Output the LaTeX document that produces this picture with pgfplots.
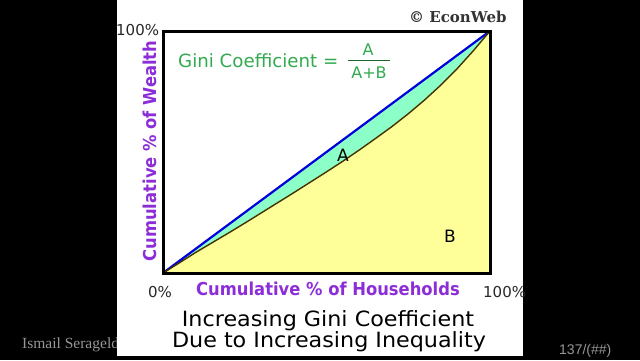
\documentclass[border=0pt]{standalone}
\usepackage{pgfplots}
\pgfplotsset{compat=1.18}
\usepackage{fontspec}
\setmainfont{DejaVu Sans}
\newfontfamily\titlefont{DejaVu Sans}[FakeStretch=1.06]
\newfontfamily\labfont{DejaVu Sans}[FakeStretch=0.92]
\newfontfamily\serifbold{DejaVu Serif}
\newfontfamily\timesfont{Liberation Serif}
\newfontfamily\arialfont{Liberation Sans}
\definecolor{yellowB}{RGB}{255,255,153}
\definecolor{mintA}{RGB}{140,255,200}
\definecolor{lineblue}{RGB}{0,0,220}
\definecolor{curvebrown}{RGB}{70,50,0}
\definecolor{purp}{RGB}{140,45,215}
\definecolor{gini}{RGB}{50,170,80}
\definecolor{tickgray}{RGB}{40,40,40}
\definecolor{footgray}{RGB}{150,150,150}
\pgfplotstableread{
x y
0 0
0.05 0.042
0.1 0.085
0.15 0.125
0.2 0.165
0.25 0.206
0.3 0.248
0.35 0.29
0.4 0.332
0.45 0.375
0.5 0.418
0.55 0.462
0.6 0.508
0.65 0.556
0.7 0.605
0.75 0.658
0.8 0.715
0.85 0.777
0.9 0.845
0.95 0.92
1 1
}\lorenz
\pgfplotstableread{
x y
0 0
1 1
0.95 0.92
0.9 0.845
0.85 0.777
0.8 0.715
0.75 0.658
0.7 0.605
0.65 0.556
0.6 0.508
0.55 0.462
0.5 0.418
0.45 0.375
0.4 0.332
0.35 0.29
0.3 0.248
0.25 0.206
0.2 0.165
0.15 0.125
0.1 0.085
0.05 0.042
0 0
}\region
\pgfplotstableread{
x y
0 0
1 1
}\diag
\begin{document}
\begin{tikzpicture}
\fill[black] (0pt,0pt) rectangle (640pt,-360pt);
\useasboundingbox (0pt,0pt) rectangle (640pt,-360pt);
\node[anchor=base west, text=footgray, inner sep=0pt] at (22pt,-348pt) {\timesfont\fontsize{15.5}{17}\selectfont Ismail Serageldin};
\node[anchor=base west, text=footgray, inner sep=0pt] at (559pt,-354pt) {\arialfont\fontsize{14}{16}\selectfont 137/(\#\#)};
\fill[white] (117pt,0pt) rectangle (523pt,-356pt);
\begin{axis}[at={(163pt,-273pt)}, anchor=south west, scale only axis,
  width=327pt, height=242pt, xmin=0, xmax=1, ymin=0, ymax=1,
  ticks=none, axis on top, axis line style={line width=3pt, black}]
\addplot[fill=yellowB, draw=none] table[x=x,y=y] {\lorenz} \closedcycle;
\addplot[fill=mintA, draw=none] table[x=x,y=y] {\region} -- cycle;
\addplot[lineblue, line width=2.2pt] table[x=x,y=y] {\diag};
\addplot[curvebrown, line width=1.4pt] table[x=x,y=y] {\lorenz};
\end{axis}
% texts
\node[anchor=base, inner sep=0pt] at (328pt,-326pt) {\titlefont\fontsize{21}{25}\selectfont Increasing Gini Coefficient};
\node[anchor=base, inner sep=0pt] at (329pt,-347pt) {\titlefont\fontsize{21}{25}\selectfont Due to Increasing Inequality};
\node[anchor=base, inner sep=0pt, text=purp] at (328pt,-295pt) {\labfont\bfseries\fontsize{17.8}{20}\selectfont Cumulative \% of Households};
\node[anchor=base, inner sep=0pt, text=purp, rotate=90] at (156pt,-151pt) {\labfont\bfseries\fontsize{17.8}{20}\selectfont Cumulative \% of Wealth};
\node[anchor=base west, inner sep=0pt, text=tickgray] at (116pt,-35pt) {\fontsize{15}{17}\selectfont 100\%};
\node[anchor=base west, inner sep=0pt, text=tickgray] at (148pt,-297pt) {\fontsize{15}{17}\selectfont 0\%};
\node[anchor=base west, inner sep=0pt, text=tickgray] at (483pt,-297pt) {\fontsize{15}{17}\selectfont 100\%};
\node[anchor=base west, inner sep=0pt, text=gini] at (178pt,-67pt) {\fontsize{18.2}{20}\selectfont Gini Coefficient =};
\node[anchor=base, inner sep=0pt, text=gini] at (368pt,-55pt) {\fontsize{16}{18}\selectfont A};
\draw[gini!60!black, line width=1pt] (348pt,-60pt) -- (390pt,-60pt);
\node[anchor=base, inner sep=0pt, text=gini] at (369pt,-78pt) {\fontsize{16}{18}\selectfont A+B};
\node[anchor=base, inner sep=0pt] at (343pt,-161pt) {\fontsize{17}{19}\selectfont A};
\node[anchor=base, inner sep=0pt] at (450pt,-242pt) {\fontsize{17}{19}\selectfont B};
\node[anchor=base west, inner sep=0pt, text=black!80] at (409pt,-22pt) {\serifbold\bfseries\fontsize{15}{17}\selectfont \textcopyright\ EconWeb};
\end{tikzpicture}
\end{document}
